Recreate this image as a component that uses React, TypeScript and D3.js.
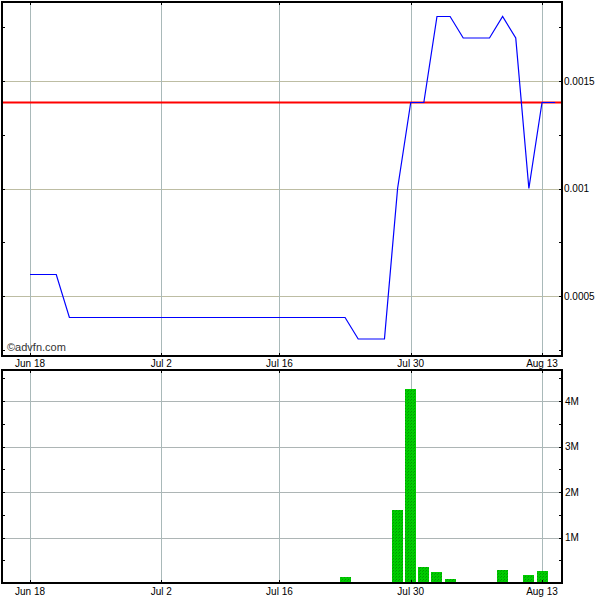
import React from "react";
import * as d3 from "d3";

const tickIndex = [0, 10, 19, 29, 39];
const tickLabels = ["Jun 18", "Jul 2", "Jul 16", "Jul 30", "Aug 13"];

const prices = [
  0.0006, 0.0006, 0.0006, 0.0004, 0.0004, 0.0004, 0.0004, 0.0004, 0.0004, 0.0004,
  0.0004, 0.0004, 0.0004, 0.0004, 0.0004, 0.0004, 0.0004, 0.0004, 0.0004, 0.0004,
  0.0004, 0.0004, 0.0004, 0.0004, 0.0004, 0.0003, 0.0003, 0.0003, 0.001, 0.0014,
  0.0014, 0.0018, 0.0018, 0.0017, 0.0017, 0.0017, 0.0018, 0.0017, 0.001, 0.0014,
  0.0014,
];

const volumes = [
  0, 0, 0, 0, 0, 0, 0, 0, 0, 0,
  0, 0, 0, 0, 0, 0, 0, 0, 0, 0,
  0, 0, 0, 0, 0.13, 0, 0, 0, 1.6, 4.27,
  0.35, 0.24, 0.09, 0, 0, 0, 0.29, 0, 0.18, 0.26,
  0,
];

const refPrice = 0.0014;
const priceTicks = [0.0005, 0.001, 0.0015];
const priceLabels = ["0.0005", "0.001", "0.0015"];
const priceMinor = [0.00025, 0.0005, 0.00075, 0.001, 0.00125, 0.0015, 0.00175];
const volTicks = [1, 2, 3, 4];
const volLabels = ["1M", "2M", "3M", "4M"];
const volMinor = [0.5, 1, 1.5, 2, 2.5, 3, 3.5, 4, 4.5];

const L = 2, R = 562;
const T1 = 2, B1 = 356;
const T2 = 370, B2 = 583;

export default function App() {
  const x = d3.scaleLinear().domain([0, 39]).range([30, 542]);
  const y1 = d3.scaleLinear().domain([0.0005, 0.0015]).range([296, 81]);
  const y2 = d3.scaleLinear().domain([0, 4]).range([B2, 401]);
  const line = d3.line<number>().x((_, i) => x(i)).y((d) => y1(d));
  const font = "'Liberation Sans', Arial, sans-serif";
  const vGrid = "#a9b9b9";
  const hGrid1 = "#bdbda3";
  const hGrid2 = "#adb5b5";
  const ry = y1(refPrice);

  return (
    <svg width={600} height={600} style={{ position: "absolute", left: 0, top: 0 }}>
      <defs>
        <pattern id="vp" width={3} height={3} patternUnits="userSpaceOnUse">
          <rect width={3} height={3} fill="#00cc00" />
          <rect x={0} y={0} width={1} height={1} fill="#009a00" />
          <rect x={2} y={1} width={1} height={1} fill="#00a800" />
        </pattern>
      </defs>
      <rect width={600} height={600} fill="#fff" />
      <g shapeRendering="crispEdges">
        {priceTicks.map((p) => (
          <line key={"h1" + p} x1={L} x2={R} y1={Math.round(y1(p)) + 0.5} y2={Math.round(y1(p)) + 0.5} stroke={hGrid1} />
        ))}
        {tickIndex.map((t) => (
          <line key={"v1" + t} x1={Math.round(x(t)) + 0.5} x2={Math.round(x(t)) + 0.5} y1={T1} y2={B1} stroke={vGrid} />
        ))}
      </g>
      <rect x={L} y={ry - 1} width={R - L} height={2} fill="#ff0000" />
      <path d={line(prices) || ""} fill="none" stroke="#0000ff" strokeWidth={1.2} />
      <g shapeRendering="crispEdges">
        <rect x={L} y={T1} width={R - L} height={B1 - T1} fill="none" stroke="#000" strokeWidth={2} />
        {priceMinor.map((p) => (
          <g key={"pm" + p}>
            <line x1={L} x2={L + 3} y1={Math.round(y1(p)) + 0.5} y2={Math.round(y1(p)) + 0.5} stroke="#000" />
            <line x1={R - 3} x2={R} y1={Math.round(y1(p)) + 0.5} y2={Math.round(y1(p)) + 0.5} stroke="#000" />
          </g>
        ))}
        {tickIndex.map((t) => (
          <g key={"xt1" + t}>
            <line x1={Math.round(x(t)) + 0.5} x2={Math.round(x(t)) + 0.5} y1={T1} y2={T1 + 3} stroke="#000" />
            <line x1={Math.round(x(t)) + 0.5} x2={Math.round(x(t)) + 0.5} y1={B1 - 3} y2={B1} stroke="#000" />
          </g>
        ))}
      </g>
      {priceTicks.map((p, i) => (
        <text key={"pl" + p} x={564} y={y1(p) + 3.5} fontSize={10} fontFamily={font} fill="#000">{priceLabels[i]}</text>
      ))}
      <text x={7} y={351} fontSize={11} fontFamily={font} fill="#333">©advfn.com</text>
      {tickIndex.map((t, i) => (
        <text key={"xl1" + t} x={x(t)} y={367} fontSize={10} fontFamily={font} textAnchor="middle" fill="#000">{tickLabels[i]}</text>
      ))}
      <g shapeRendering="crispEdges">
        {volTicks.map((v) => (
          <line key={"h2" + v} x1={L} x2={R} y1={Math.round(y2(v)) + 0.5} y2={Math.round(y2(v)) + 0.5} stroke={hGrid2} />
        ))}
        {tickIndex.map((t) => (
          <line key={"v2" + t} x1={Math.round(x(t)) + 0.5} x2={Math.round(x(t)) + 0.5} y1={T2} y2={B2} stroke={vGrid} />
        ))}
        {volumes.map((v, i) =>
          v > 0 ? (
            <rect key={"b" + i} x={Math.round(x(i) - 5.5)} y={Math.round(y2(v))} width={11} height={B2 - 1 - Math.round(y2(v))} fill="url(#vp)" />
          ) : null
        )}
        <rect x={L} y={T2} width={R - L} height={B2 - T2} fill="none" stroke="#000" strokeWidth={2} />
        {volMinor.map((v) => (
          <g key={"vm" + v}>
            <line x1={L} x2={L + 3} y1={Math.round(y2(v)) + 0.5} y2={Math.round(y2(v)) + 0.5} stroke="#000" />
            <line x1={R - 3} x2={R} y1={Math.round(y2(v)) + 0.5} y2={Math.round(y2(v)) + 0.5} stroke="#000" />
          </g>
        ))}
        {tickIndex.map((t) => (
          <g key={"xt2" + t}>
            <line x1={Math.round(x(t)) + 0.5} x2={Math.round(x(t)) + 0.5} y1={T2} y2={T2 + 3} stroke="#000" />
            <line x1={Math.round(x(t)) + 0.5} x2={Math.round(x(t)) + 0.5} y1={B2 - 3} y2={B2} stroke="#000" />
          </g>
        ))}
      </g>
      {volTicks.map((v, i) => (
        <text key={"vl" + v} x={565} y={y2(v) + 3.5} fontSize={10} fontFamily={font} fill="#000">{volLabels[i]}</text>
      ))}
      {tickIndex.map((t, i) => (
        <text key={"xl2" + t} x={x(t)} y={595} fontSize={10} fontFamily={font} textAnchor="middle" fill="#000">{tickLabels[i]}</text>
      ))}
    </svg>
  );
}
